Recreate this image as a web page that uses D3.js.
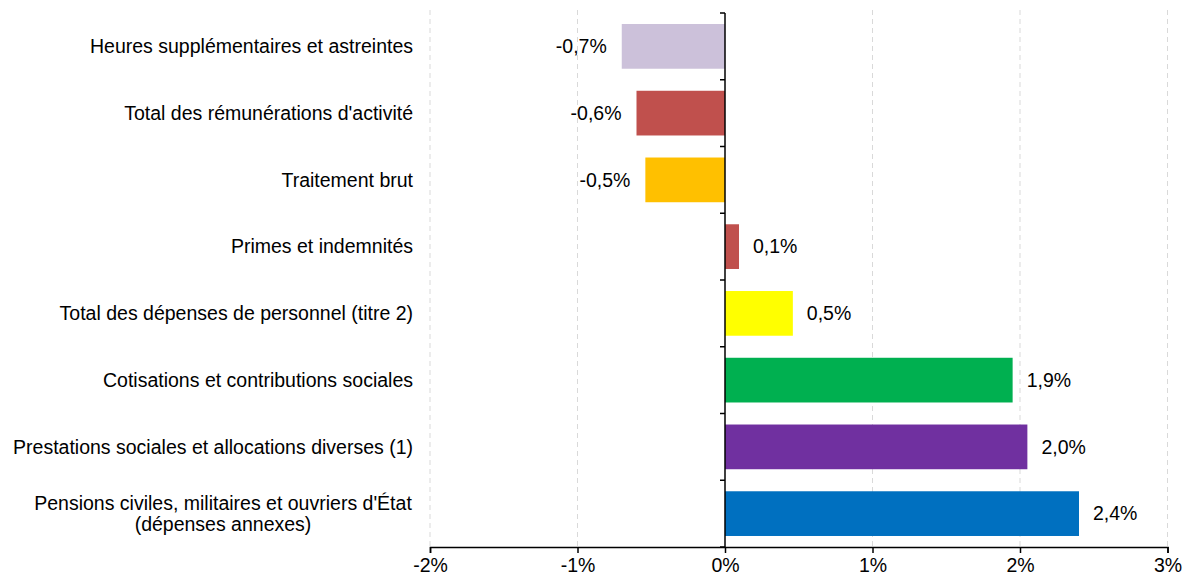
<!DOCTYPE html>
<html><head><meta charset="utf-8">
<script src="https://cdn.jsdelivr.net/npm/d3@7"></script>
<style>body{margin:0;background:#fff}svg{display:block}text{font-family:"Liberation Sans",Arial,sans-serif;fill:#000}</style>
</head><body><svg id="c" width="1184" height="578"></svg>
<script>
const categories = [
  ["Heures supplémentaires et astreintes"],
  ["Total des rémunérations d'activité"],
  ["Traitement brut"],
  ["Primes et indemnités"],
  ["Total des dépenses de personnel (titre 2)"],
  ["Cotisations et contributions sociales"],
  ["Prestations sociales et allocations diverses (1)"],
  ["Pensions civiles, militaires et ouvriers d'État", "(dépenses annexes)"]
];
const values = [-0.7, -0.6, -0.54, 0.095, 0.46, 1.95, 2.05, 2.4];
const valueLabels = ["-0,7%", "-0,6%", "-0,5%", "0,1%", "0,5%", "1,9%", "2,0%", "2,4%"];
const colors = ["#CCC1DA", "#C0504D", "#FFC000", "#C0504D", "#FFFF00", "#00B050", "#7030A0", "#0070C0"];
const xTicks = [-2, -1, 0, 1, 2, 3];
const xTickLabels = ["-2%", "-1%", "0%", "1%", "2%", "3%"];

const FS = "19.5px";
const svg = d3.select("#c");
const x = d3.scaleLinear().domain([-2, 3]).range([430, 1167.5]);
const y = d3.scaleBand().domain(d3.range(categories.length)).range([13, 547]).paddingInner(0.33).paddingOuter(0.165);

// grid
svg.append("g").selectAll("line").data(xTicks.filter(d => d !== 0)).join("line")
  .attr("x1", d => x(d)).attr("x2", d => x(d)).attr("y1", 10).attr("y2", 547)
  .attr("stroke", "#d9d9d9").attr("stroke-width", 1).attr("stroke-dasharray", "5,4");

// bars
svg.append("g").selectAll("rect").data(values).join("rect")
  .attr("x", d => x(Math.min(0, d))).attr("width", d => Math.abs(x(d) - x(0)))
  .attr("y", (d, i) => y(i)).attr("height", y.bandwidth())
  .attr("fill", (d, i) => colors[i]);

// value labels
svg.append("g").selectAll("text").data(values).join("text")
  .attr("x", d => d < 0 ? x(d) - 15 : x(d) + 14)
  .attr("y", (d, i) => y(i) + y.bandwidth() / 2)
  .attr("dy", "0.35em")
  .attr("text-anchor", d => d < 0 ? "end" : "start")
  .style("font-size", FS)
  .text((d, i) => valueLabels[i]);

// category labels
const cl = svg.append("g").selectAll("text").data(categories).join("text")
  .attr("text-anchor", d => d.length > 1 ? "middle" : "end")
  .attr("x", d => d.length > 1 ? 223 : 413)
  .attr("y", (d, i) => y(i) + y.bandwidth() / 2)
  .style("font-size", FS);
cl.each(function(d) {
  const t = d3.select(this);
  const n = d.length;
  d.forEach((line, k) => {
    t.append("tspan").attr("x", n > 1 ? 223 : 413)
      .attr("dy", k === 0 ? (0.35 - (n - 1) * 0.56) + "em" : "1.12em")
      .text(line);
  });
});

// y axis at zero
const yAxisG = svg.append("g");
yAxisG.append("line").attr("x1", x(0)).attr("x2", x(0)).attr("y1", 13).attr("y2", 547).attr("stroke", "#000").attr("stroke-width", 1.5);
const boundaries = d3.range(categories.length + 1).map(i => 13 + i * y.step());
yAxisG.selectAll("line.t").data(boundaries).join("line").attr("class", "t")
  .attr("x1", x(0) - 5).attr("x2", x(0)).attr("y1", d => d).attr("y2", d => d)
  .attr("stroke", "#000").attr("stroke-width", 1.5);

// x axis
const xAxis = d3.axisBottom(x).tickValues(xTicks).tickSize(6).tickFormat((d, i) => xTickLabels[i]);
const xg = svg.append("g").attr("transform", "translate(0,547)").call(xAxis);
xg.select(".domain").attr("stroke", "#000").attr("stroke-width", 1.5);
xg.selectAll(".tick line").attr("stroke", "#000").attr("stroke-width", 1.5);
xg.selectAll(".tick text").style("font-size", FS).style("font-family", "'Liberation Sans',Arial,sans-serif").attr("fill", "#000").attr("y", 9).attr("dy", "0.8em");
</script></body></html>
